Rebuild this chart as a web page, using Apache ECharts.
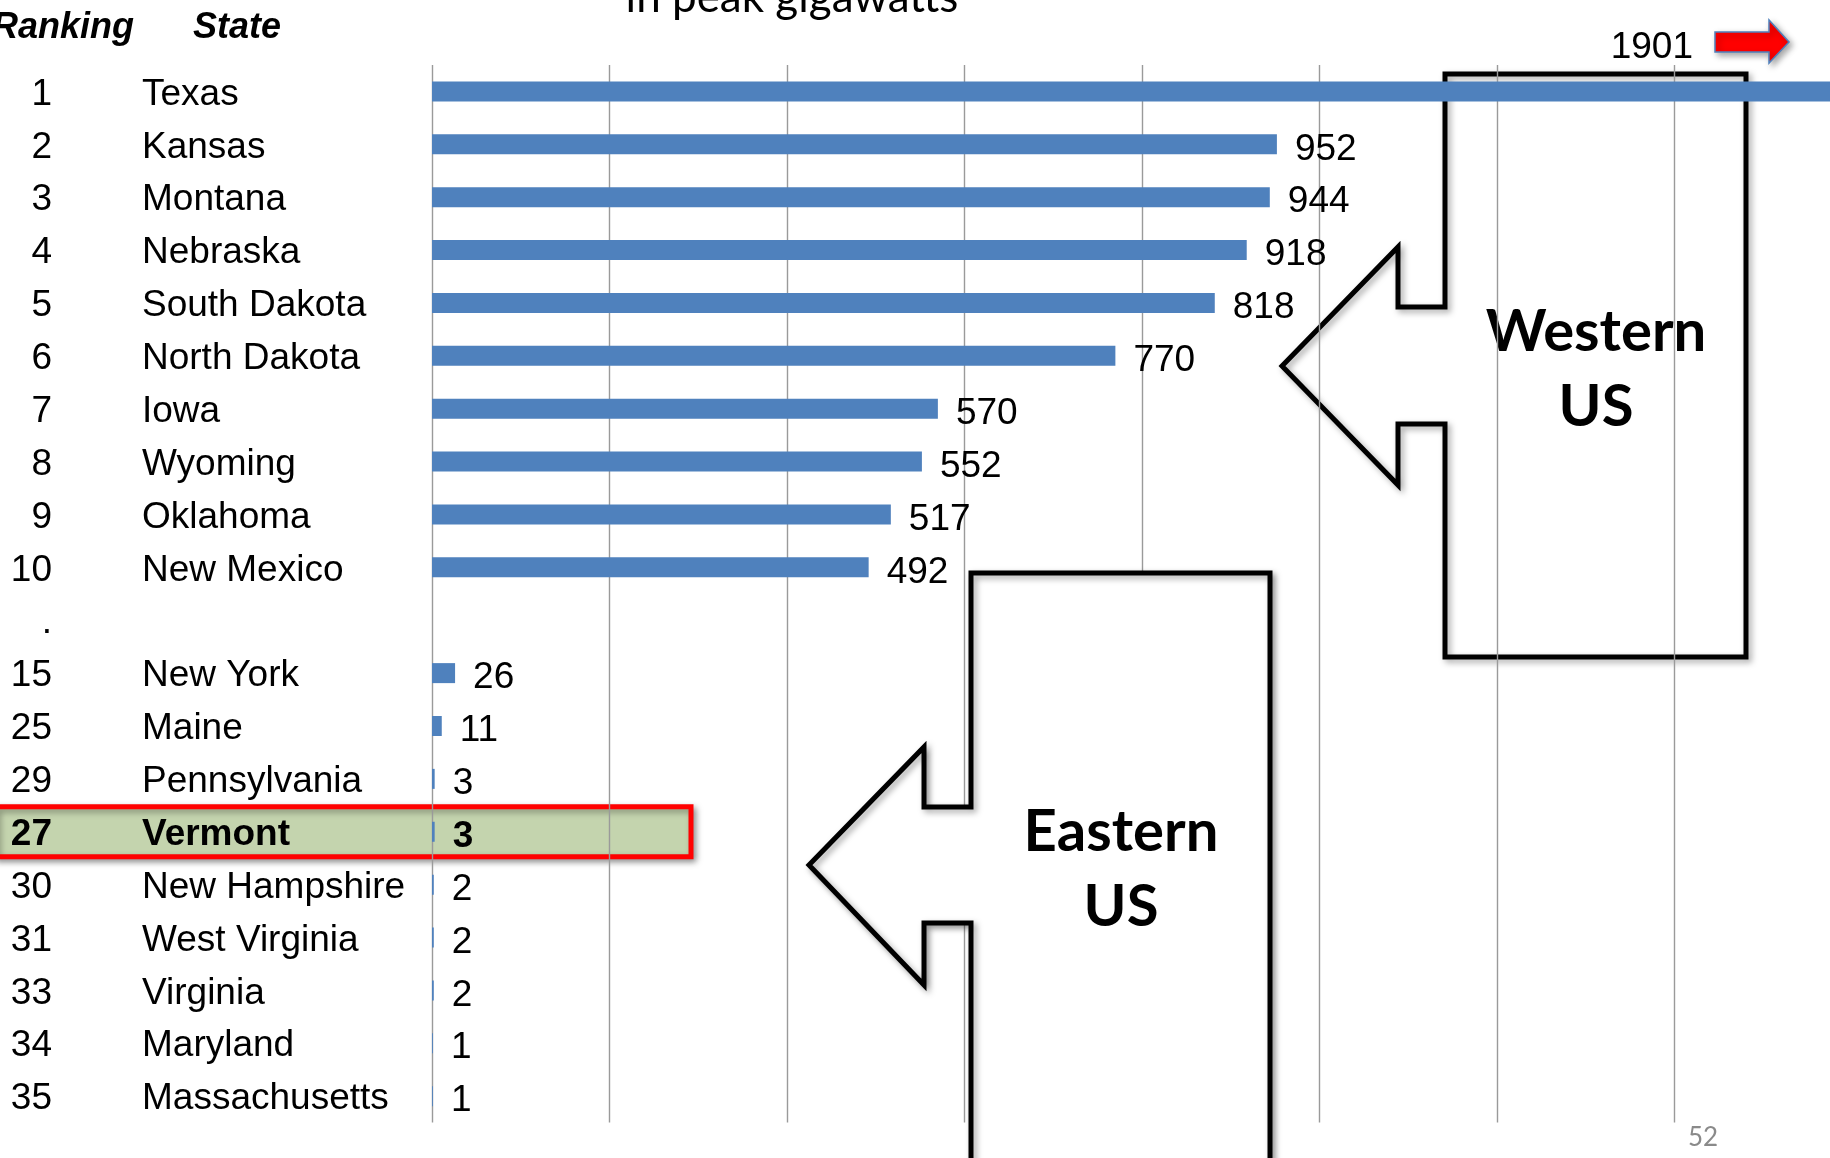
<!DOCTYPE html>
<html>
<head>
<meta charset="utf-8">
<script src="https://cdn.jsdelivr.net/npm/echarts@6/dist/echarts.min.js"></script>
<style>
html,body{margin:0;padding:0;background:#fff;}
#chart{width:1830px;height:1158px;}
</style>
</head>
<body>
<div id="chart"></div>
<script>
// ---- data ----
const rankings = ['1','2','3','4','5','6','7','8','9','10','.','15','25','29','27','30','31','33','34','35'];
const states = ['Texas','Kansas','Montana','Nebraska','South Dakota','North Dakota','Iowa','Wyoming','Oklahoma','New Mexico','','New York','Maine','Pennsylvania','Vermont','New Hampshire','West Virginia','Virginia','Maryland','Massachusetts'];
const values = [1901,952,944,918,882,770,570,552,517,492,null,26,11,3,3,2,2,2,1,1];
const valueLabels = ['1901','952','944','918','818','770','570','552','517','492','','26','11','3','3','2','2','2','1','1'];
const xTicks = [0,200,400,600,800,1000,1200,1400,1600];
const highlighted = 'Vermont';
const headerLabels = ['Ranking','State'];
const titleText = 'in peak gigawatts';
const regionLabels = ['Western\nUS','Eastern\nUS'];
const pageNumber = '52';

const FONT = '"Liberation Sans", Arial, sans-serif';
const FONT2 = 'Lato, "Open Sans", sans-serif';

const chart = echarts.init(document.getElementById('chart'), null, {renderer:'canvas'});

const hlIndex = states.indexOf(highlighted);

const seriesData = values.map((v,i)=>{
  const item = {value: v == null ? '-' : v};
  if (i === 0) item.label = {show:false};
  if (i === hlIndex) item.label = {fontWeight:'bold'};
  return item;
});

const labelBase = {show:true, interval:0, fontSize:37, fontFamily:FONT, color:'#000', padding:[6,0,0,0]};

const option = {
  backgroundColor:'#ffffff',
  animation:false,
  grid:{left:432, right:-22, top:65, bottom:35.4, containLabel:false, outerBoundsMode:'none'},
  xAxis:{
    type:'value', min:xTicks[0], max:xTicks[xTicks.length-1], interval:xTicks[1]-xTicks[0],
    axisLine:{show:false}, axisTick:{show:false}, axisLabel:{show:false},
    splitLine:{show:true, lineStyle:{color:'#9a9a9a', width:1.4}}
  },
  yAxis:[{
    type:'category', inverse:true, data:states, position:'left',
    axisLine:{show:false}, axisTick:{show:false}, splitLine:{show:false},
    axisLabel:Object.assign({}, labelBase, {align:'left', margin:290,
      formatter:(val)=> val === highlighted ? '{b|'+val+'}' : val,
      rich:{b:{fontSize:37, fontFamily:FONT, color:'#000', fontWeight:'bold'}}})
  },{
    type:'category', inverse:true, data:rankings, position:'left', offset:0,
    axisLine:{show:false}, axisTick:{show:false}, splitLine:{show:false},
    axisLabel:Object.assign({}, labelBase, {align:'right', margin:380,
      formatter:(val, idx)=> idx === hlIndex ? '{b|'+val+'}' : val,
      rich:{b:{fontSize:37, fontFamily:FONT, color:'#000', fontWeight:'bold'}}})
  }],
  series:[{
    type:'bar', data:seriesData, barWidth:20, yAxisIndex:0,
    itemStyle:{color:'#4f81bd'},
    label:{show:true, position:'right', distance:18, offset:[0,5],
      fontSize:37, fontFamily:FONT, color:'#000',
      formatter:p=>valueLabels[p.dataIndex]}
  }]
};
chart.setOption(option);

// annotation positions derived from axis scales
const vtY = chart.convertToPixel({yAxisIndex:0}, highlighted);
const txY = chart.convertToPixel({yAxisIndex:0}, states[0]);

const shadow = {shadowBlur:6, shadowColor:'rgba(0,0,0,0.35)', shadowOffsetX:3, shadowOffsetY:3};

chart.setOption({
  graphic:[
    // Vermont highlight
    {type:'rect', z:-1, shape:{x:-5, y:vtY-25, width:696, height:50},
      style:Object.assign({fill:'#c4d4ae', stroke:'#ff0000', lineWidth:5}, shadow)},
    // headers
    {type:'text', x:134, y:28.5, z:5, style:{text:headerLabels[0], align:'right', verticalAlign:'middle',
      font:'italic bold 36px '+FONT, fill:'#000'}},
    {type:'text', x:193, y:28.5, z:5, style:{text:headerLabels[1], align:'left', verticalAlign:'middle',
      font:'italic bold 36px '+FONT, fill:'#000'}},
    // cut-off title
    {type:'text', x:792, y:-2, z:5, style:{text:titleText, align:'center', verticalAlign:'middle',
      font:'44px '+FONT2, fill:'#000'}},
    // Texas value label and red arrow
    {type:'text', x:1693, y:txY-44, z:5, style:{text:valueLabels[0], align:'right', verticalAlign:'middle',
      font:'37px '+FONT, fill:'#000'}},
    {type:'polygon', z:5, shape:{points:[[1715,32],[1769,32],[1769,20],[1789,42],[1769,63],[1769,52],[1715,52]]},
      style:Object.assign({fill:'#ff0000', stroke:'#4f81bd', lineWidth:1.5}, shadow)},
    // Western callout (behind the grid)
    {type:'polygon', z:-1, shape:{points:[[1445,74],[1746,74],[1746,657],[1445,657],[1445,424],[1398,424],[1398,485],[1282,366],[1398,247],[1398,307],[1445,307]]},
      style:Object.assign({fill:'none', stroke:'#000', lineWidth:5, lineJoin:'miter'}, shadow)},
    {type:'text', x:1596, y:370, z:-1, style:{text:regionLabels[0], align:'center', verticalAlign:'middle',
      font:'bold 58px '+FONT2, lineHeight:75, fill:'#000'}},
    // Eastern callout (on top)
    {type:'polygon', z:10, shape:{points:[[971,573],[1270,573],[1270,1175],[971,1175],[971,923],[924,923],[924,985],[809,865],[924,747],[924,807],[971,807]]},
      style:Object.assign({fill:'#ffffff', stroke:'#000', lineWidth:5, lineJoin:'miter'}, shadow)},
    {type:'text', x:1121, y:870, z:11, style:{text:regionLabels[1], align:'center', verticalAlign:'middle',
      font:'bold 58px '+FONT2, lineHeight:75, fill:'#000'}},
    // page number
    {type:'text', x:1703, y:1138, z:5, style:{text:pageNumber, align:'center', verticalAlign:'middle',
      font:'26px '+FONT2, fill:'#8a8a8a'}}
  ]
});
</script>
</body>
</html>
